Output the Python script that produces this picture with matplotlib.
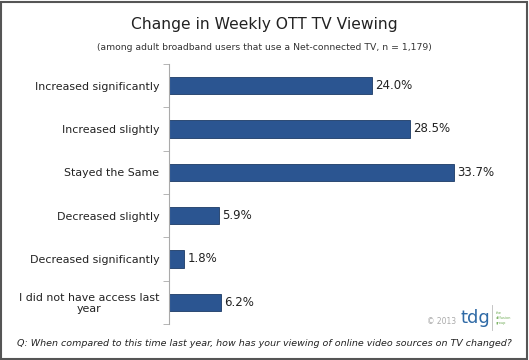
import matplotlib.pyplot as plt
from matplotlib.patches import Rectangle

# --- data ---
categories = ["Increased significantly", "Increased slightly", "Stayed the Same",
              "Decreased slightly", "Decreased significantly",
              "I did not have access last\nyear"]
values = [24.0, 28.5, 33.7, 5.9, 1.8, 6.2]

BAR = "#2b5591"
EDGE = "#1c3a66"
TXT = "#222222"

fig = plt.figure(figsize=(5.29, 3.6), dpi=100)
fig.patch.set_facecolor("white")

# frame around the whole picture
fig.patches.append(Rectangle((0.002, 0.003), 0.994, 0.992, transform=fig.transFigure,
                             fill=False, edgecolor="#555555", linewidth=1.5))

ax = fig.add_axes([169 / 529, 1 - 324 / 360, 340 / 529, (324 - 64) / 360])
y = list(range(len(categories)))
ax.barh(y, values, height=0.4, color=BAR, edgecolor=EDGE, linewidth=0.6)
ax.set_ylim(len(categories) - 0.5, -0.5)
ax.set_xlim(0, 40.2)

for yi, v in zip(y, values):
    ax.text(v + 0.35, yi, f"{v:.1f}%", va="center", ha="left", fontsize=8.5, color=TXT)

ax.set_yticks(y)
ax.set_yticklabels(categories, fontsize=7.9, color=TXT, linespacing=1.1)
for lab in ax.get_yticklabels():
    lab.set_multialignment("center")
ax.tick_params(axis="y", length=0, pad=7)
ax.set_yticks([i + 0.5 for i in range(-1, len(categories))], minor=True)
ax.tick_params(axis="y", which="minor", length=4, color="#aaaaaa", direction="out")
ax.set_xticks([])
for side in ["top", "right", "bottom"]:
    ax.spines[side].set_visible(False)
ax.spines["left"].set_color("#aaaaaa")
ax.spines["left"].set_linewidth(0.8)

fig.text(0.5, 1 - 25 / 360, "Change in Weekly OTT TV Viewing", ha="center", va="center",
         fontsize=11.2, color=TXT)
fig.text(0.5, 1 - 47 / 360, "(among adult broadband users that use a Net-connected TV, n = 1,179)",
         ha="center", va="center", fontsize=6.7, color="#333333")
fig.text(0.5, 1 - 343 / 360,
         "Q: When compared to this time last year, how has your viewing of online video sources on TV changed?",
         ha="center", va="center", fontsize=6.8, style="italic", color="#222222")

fig.text(442 / 529, 1 - 321 / 360, "© 2013", ha="center", va="center", fontsize=5.5, color="#aaaaaa")
fig.text(475 / 529, 1 - 318 / 360, "tdg", ha="center", va="center", fontsize=13, color="#2f6aa6")
fig.lines.append(plt.Line2D([492 / 529, 492 / 529], [1 - 330 / 360, 1 - 305 / 360],
                            transform=fig.transFigure, color="#bbbbbb", linewidth=0.6))
fig.text(496 / 529, 1 - 318 / 360, "the\ndiffusion\ngroup", ha="left", va="center",
         fontsize=2.5, color="#6aa84f", linespacing=1.2)

fig.savefig("out.png", dpi=100, facecolor="white")
